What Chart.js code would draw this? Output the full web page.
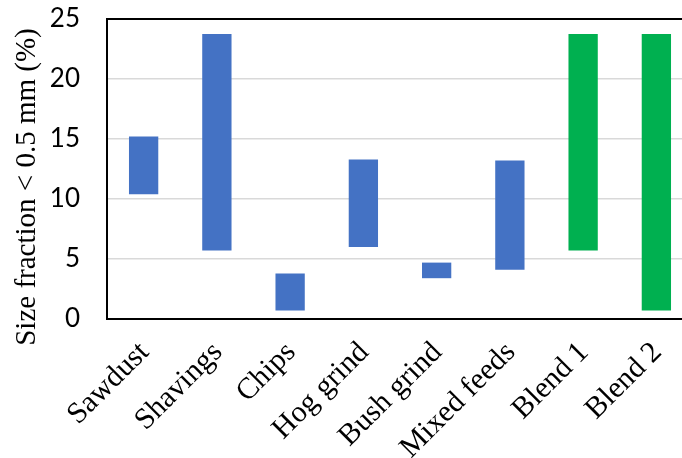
<!DOCTYPE html>
<html>
<head>
<meta charset="utf-8">
<script src="https://cdn.jsdelivr.net/npm/chart.js@4"></script>
<style>
  html, body { margin: 0; padding: 0; background: #fff; overflow: hidden; }
  #wrap { width: 700px; height: 458px; }
</style>
</head>
<body>
<div id="wrap"><canvas id="c" width="700" height="458"></canvas></div>
<script>
const categories = ['Sawdust', 'Shavings', 'Chips', 'Hog grind', 'Bush grind', 'Mixed feeds', 'Blend 1', 'Blend 2'];
const lowValues  = [10.4, 5.7, 0.7, 6.0, 3.4, 4.1, 5.7, 0.7];
const highValues = [15.2, 23.75, 3.8, 13.3, 4.7, 13.2, 23.75, 23.75];
const barColors  = ['#4472C4', '#4472C4', '#4472C4', '#4472C4', '#4472C4', '#4472C4', '#00B050', '#00B050'];
const yTicks = [0, 5, 10, 15, 20, 25];
const yTitle = 'Size fraction < 0.5 mm (%)';

const ranges = categories.map((c, i) => [lowValues[i], highValues[i]]);

const frameAndTitle = {
  id: 'frameAndTitle',
  afterDraw(chart) {
    const { ctx, chartArea } = chart;
    ctx.save();
    ctx.strokeStyle = '#000';
    ctx.lineWidth = 2;
    ctx.beginPath();
    ctx.moveTo(chartArea.left - 1, chartArea.top);
    ctx.lineTo(chartArea.right + 5, chartArea.top);
    ctx.stroke();
    ctx.restore();

    ctx.save();
    ctx.translate(27, 187);
    ctx.rotate(-Math.PI / 2);
    ctx.fillStyle = '#000';
    ctx.font = '29px "Liberation Serif"';
    ctx.textAlign = 'center';
    ctx.textBaseline = 'middle';
    ctx.fillText(yTitle, 0, 0);
    ctx.restore();
  }
};

new Chart(document.getElementById('c'), {
  type: 'bar',
  data: {
    labels: categories,
    datasets: [{
      data: ranges,
      backgroundColor: barColors,
      borderWidth: 0,
      borderSkipped: false,
      categoryPercentage: 1,
      barPercentage: 0.40
    }]
  },
  options: {
    responsive: false,
    animation: false,
    devicePixelRatio: 1,
    layout: { padding: { top: 19, right: 7, left: 0, bottom: 0 } },
    plugins: { legend: { display: false }, tooltip: { enabled: false } },
    scales: {
      x: {
        grid: { display: false, drawTicks: false },
        border: { display: true, color: '#000', width: 2 },
        ticks: {
          color: '#000',
          maxRotation: 45,
          minRotation: 45,
          autoSkip: false,
          padding: 16,
          labelOffset: 1,
          font: { family: 'Liberation Serif', size: 30 }
        },
        afterFit(scale) { scale.height = 139; scale.paddingLeft = 0; scale.paddingRight = 0; }
      },
      y: {
        min: 0,
        max: 25,
        afterBuildTicks(scale) { scale.ticks = yTicks.map(v => ({ value: v })); },
        grid: { color: '#d9d9d9', lineWidth: 1.5, drawTicks: false },
        border: { display: true, color: '#000', width: 2 },
        ticks: {
          color: '#000',
          padding: 27,
          font: { family: 'Lato', size: 26 }
        },
        title: { display: false, text: yTitle },
        afterFit(scale) { scale.width = 107; scale.paddingTop = 0; scale.paddingBottom = 0; }
      }
    }
  },
  plugins: [frameAndTitle]
});
</script>
</body>
</html>
